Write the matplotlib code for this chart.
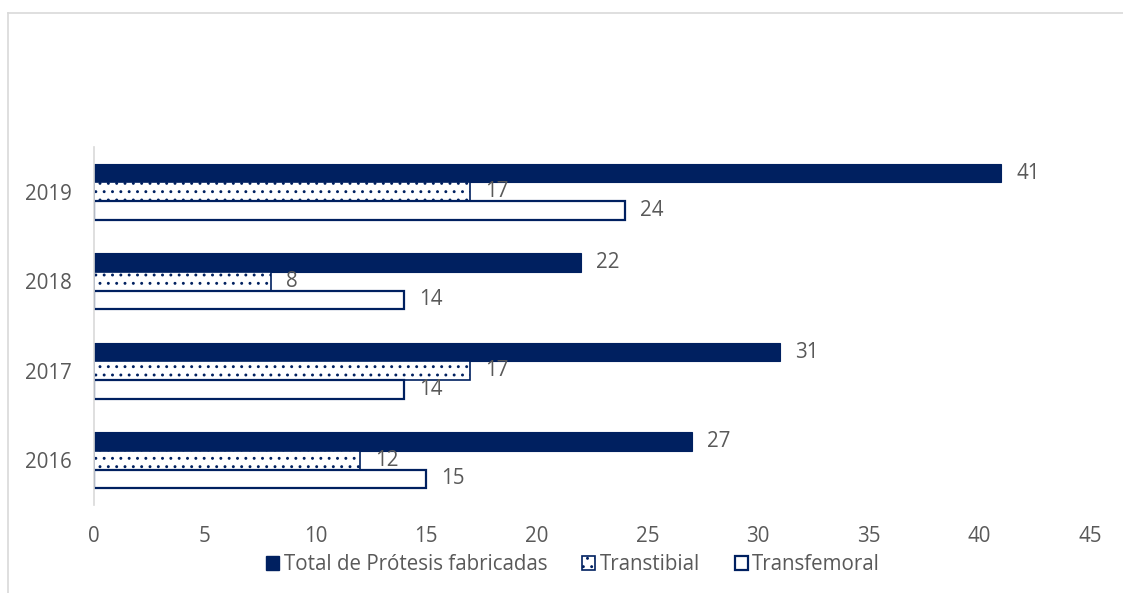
import matplotlib
matplotlib.use("Agg")
import matplotlib.pyplot as plt
import numpy as np
from matplotlib.lines import Line2D
from matplotlib.patches import Patch

plt.rcParams['font.family'] = ['Open Sans', 'DejaVu Sans']
plt.rcParams['hatch.linewidth'] = 0.9

years = ['2016', '2017', '2018', '2019']
total = [27, 31, 22, 41]
transtibial = [12, 17, 8, 17]
transfemoral = [15, 14, 14, 24]

navy = '#002060'
gray_text = '#595959'
plt.rcParams['hatch.color'] = navy
fs = 14.8

fig = plt.figure(figsize=(11.23, 5.93), dpi=100)
ax = fig.add_axes([94/1123, 1 - 505/593, (1090-94)/1123, (505-147)/593])

y = np.arange(len(years))
h = 0.207

b1 = ax.barh(y + h, total, height=h, color=navy, edgecolor=navy, linewidth=0.8,
             label='Total de Prótesis fabricadas')
b2 = ax.barh(y, transtibial, height=h, color='white', edgecolor=navy, linewidth=1.2,
             hatch='..', label='Transtibial')
b3 = ax.barh(y - h, transfemoral, height=h, color='white', edgecolor=navy, linewidth=1.6,
             label='Transfemoral')

for bars in (b1, b2, b3):
    ax.bar_label(bars, padding=11, fontsize=fs, color=gray_text)

ax.set_xlim(0, 45)
ax.set_ylim(-0.5, 3.5)
ax.set_xticks(np.arange(0, 46, 5))
ax.set_yticks(y)
ax.set_yticklabels(years)
ax.tick_params(axis='both', length=0, labelsize=fs, labelcolor=gray_text)
ax.tick_params(axis='x', pad=15)
ax.tick_params(axis='y', pad=16)

for s in ('top', 'right', 'bottom'):
    ax.spines[s].set_visible(False)
ax.spines['left'].set_color('#d9d9d9')
ax.spines['left'].set_linewidth(1.2)

handles = [Patch(facecolor=navy, edgecolor=navy),
           Patch(facecolor='white', edgecolor=navy, hatch='..', linewidth=1.2),
           Patch(facecolor='white', edgecolor=navy, linewidth=1.6)]
labels = ['Total de Prótesis fabricadas', 'Transtibial', 'Transfemoral']
leg = fig.legend(handles, labels, loc='center', bbox_to_anchor=(573/1123, 1 - 565/593),
                 ncol=3, frameon=False, fontsize=fs, handlelength=0.65, handleheight=0.65,
                 handletextpad=0.2, columnspacing=1.7, labelcolor=gray_text)

# outer chart border (left and top edges)
fig.add_artist(Line2D([8/1123, 8/1123], [0, 1 - 13/593], color='#d9d9d9', linewidth=1.2))
fig.add_artist(Line2D([8/1123, 1], [1 - 13/593, 1 - 13/593], color='#d9d9d9', linewidth=1.2))

fig.savefig('out.png', dpi=100)
